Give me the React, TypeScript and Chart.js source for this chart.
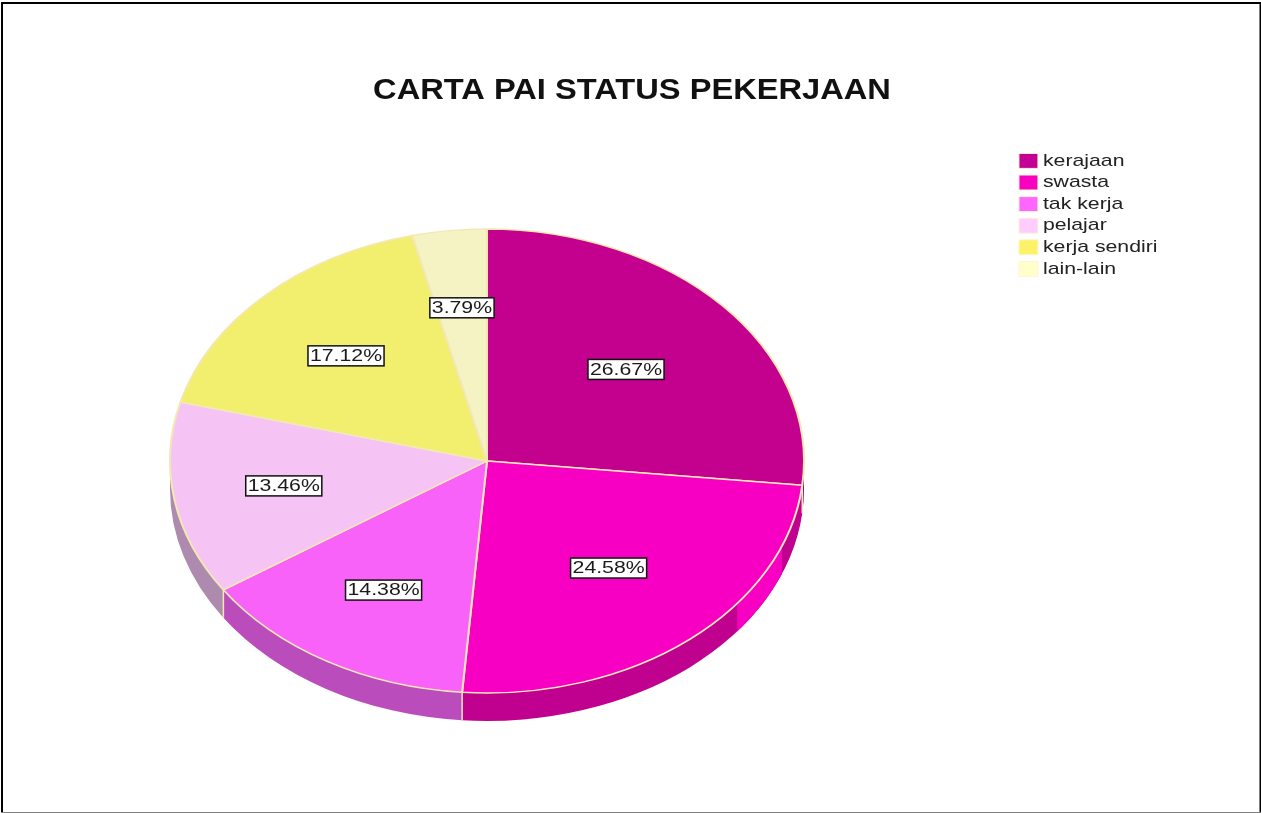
import React, { useEffect, useRef } from "react";
import { Chart, registerables } from "chart.js";

Chart.register(...registerables);

const titleText = "CARTA PAI STATUS PEKERJAAN";
const categories = ["kerajaan", "swasta", "tak kerja", "pelajar", "kerja sendiri", "lain-lain"];
const percentages = [26.67, 24.58, 14.38, 13.46, 17.12, 3.79];

const faceColors = ["#c4008e", "#f800c4", "#f862f8", "#f5c4f5", "#f2ee6e", "#f5f3c4"];
const legendColors = ["#c40094", "#f800c0", "#ff66ff", "#ffccff", "#fbf268", "#ffffcc"];
const wallColors = ["#a00084", "#c0008e", "#ba4cbc", "#ae8aae", "#c4c058", "#c4c29c"];
const labelRadiusFactors = [0.59, 0.6, 0.645, 0.65, 0.635, 0.665];

const EDGE = "#f3e8b4";
const CX = 487;
const CY = 461;
const RX = 317;
const RY = 232;
const DEPTH = 28;
const TITLE_STRETCH = 1.125;
const TEXT_STRETCH = 1.25;
const LEGEND_TEXT_SHIFT = 3.5;

// The reference picture is a horizontally stretched, slightly soft bitmap: draw all text the same way.
const stretchText = (ctx: any) => {
  const originalFill = ctx.fillText.bind(ctx);
  const originalMeasure = ctx.measureText.bind(ctx);
  const factorNow = () => (String(ctx.font).includes("bold") ? TITLE_STRETCH : TEXT_STRETCH);
  ctx.measureText = (text: string) => {
    const metrics = originalMeasure(text);
    return {
      width: metrics.width * factorNow(),
      actualBoundingBoxAscent: metrics.actualBoundingBoxAscent,
      actualBoundingBoxDescent: metrics.actualBoundingBoxDescent,
    };
  };
  ctx.fillText = (text: string, x: number, y: number) => {
    const factor = factorNow();
    const left = ctx.textAlign === "left" ? LEGEND_TEXT_SHIFT : 0;
    ctx.save();
    ctx.filter = "blur(0.5px)";
    ctx.translate(x - left, y);
    ctx.scale(factor, 1);
    originalFill(text, 0, 0);
    ctx.restore();
  };
};

const wallBand = (ctx: CanvasRenderingContext2D, a: number, b: number, color: string) => {
  ctx.beginPath();
  ctx.ellipse(CX, CY, RX, RY, 0, a, b, false);
  ctx.ellipse(CX, CY + DEPTH, RX, RY, 0, b, a, true);
  ctx.closePath();
  ctx.fillStyle = color;
  ctx.fill();
};

const frameAndPiePlugin = {
  id: "frameAndPie",
  beforeDraw(chart: any) {
    const ctx = chart.ctx;
    ctx.save();
    ctx.fillStyle = "#ffffff";
    ctx.fillRect(0, 0, chart.width, chart.height);
    ctx.fillStyle = "#000000";
    ctx.fillRect(1, 2, 1259, 2);
    ctx.fillRect(1, 2, 2, 811);
    ctx.fillRect(1259.5, 2, 1.5, 811);
    ctx.fillStyle = "#808080";
    ctx.fillRect(1, 812, 1260, 1);
    ctx.restore();
  },
  beforeDatasetsDraw(chart: any) {
    const ctx = chart.ctx;
    const arcs = chart.getDatasetMeta(0).data;
    ctx.save();
    arcs.forEach((arc: any, i: number) => {
      const a = Math.max(arc.startAngle, 0);
      const b = Math.min(arc.endAngle, Math.PI);
      if (b <= a) return;
      wallBand(ctx, a, b, wallColors[i]);
      if (i === 1) {
        // the reference leaves part of this wall in the face colour
        const span = arc.endAngle - arc.startAngle;
        wallBand(ctx, arc.startAngle + span * 0.175, arc.startAngle + span * 0.36, faceColors[1]);
      }
    });
    ctx.strokeStyle = EDGE;
    ctx.lineWidth = 1.5;
    arcs.forEach((arc: any) => {
      const t = arc.endAngle;
      if (t > 0 && t < Math.PI) {
        const x = CX + RX * Math.cos(t);
        const y = CY + RY * Math.sin(t);
        ctx.beginPath();
        ctx.moveTo(x, y);
        ctx.lineTo(x, y + DEPTH);
        ctx.stroke();
      }
    });
    ctx.restore();
    const first = arcs[0];
    ctx.save();
    ctx.translate(CX, CY);
    ctx.scale(1, RY / RX);
    ctx.translate(-first.x, -first.y);
  },
  afterDatasetsDraw(chart: any) {
    const ctx = chart.ctx;
    ctx.restore();
    const arcs = chart.getDatasetMeta(0).data;
    ctx.save();
    ctx.font = '17px "Liberation Sans"';
    ctx.textAlign = "center";
    ctx.textBaseline = "middle";
    arcs.forEach((arc: any, i: number) => {
      const mid = (arc.startAngle + arc.endAngle) / 2;
      const f = labelRadiusFactors[i];
      const x = CX + RX * f * Math.cos(mid);
      const y = CY + RY * f * Math.sin(mid);
      const text = percentages[i].toFixed(2) + "%";
      const w = ctx.measureText(text).width + 4;
      const h = 20;
      ctx.fillStyle = "#ffffff";
      ctx.fillRect(x - w / 2, y - h / 2, w, h);
      ctx.strokeStyle = "#111111";
      ctx.lineWidth = 1.5;
      ctx.strokeRect(x - w / 2, y - h / 2, w, h);
      ctx.fillStyle = "#1a1a1a";
      ctx.fillText(text, x, y + 0.5);
    });
    ctx.restore();
  },
};

export default function App() {
  const ref = useRef<HTMLCanvasElement>(null);
  useEffect(() => {
    const canvas = ref.current!;
    stretchText(canvas.getContext("2d"));
    const chart = new Chart(canvas, {
      type: "pie",
      data: {
        labels: categories,
        datasets: [
          {
            data: percentages,
            backgroundColor: faceColors,
            borderColor: EDGE,
            borderWidth: 2,
            radius: RX,
          } as any,
        ],
      },
      options: {
        responsive: false,
        animation: false,
        layout: { padding: { top: 60, right: 90, left: 93, bottom: 0 } },
        plugins: {
          tooltip: { enabled: false },
          title: {
            display: true,
            text: titleText,
            color: "#111111",
            font: { family: '"Liberation Sans"', size: 29, weight: "bold" },
            padding: { top: 14, bottom: 39 },
          },
          legend: {
            display: true,
            position: "right",
            align: "start",
            fullSize: false,
            labels: {
              boxWidth: 19,
              boxHeight: 15,
              padding: 4.6,
              color: "#222222",
              font: { family: '"Liberation Sans"', size: 17 },
              generateLabels: () =>
                categories.map((text, i) => ({
                  text,
                  index: i,
                  fillStyle: legendColors[i],
                  strokeStyle: "#fdf5d0",
                  lineWidth: 1,
                  hidden: false,
                  fontColor: "#222222",
                })),
            },
          },
        },
      } as any,
      plugins: [frameAndPiePlugin],
    } as any);
    return () => chart.destroy();
  }, []);
  return (
    <canvas
      ref={ref}
      width={1261}
      height={813}
      style={{ position: "absolute", left: 0, top: 0, display: "block" }}
    />
  );
}
